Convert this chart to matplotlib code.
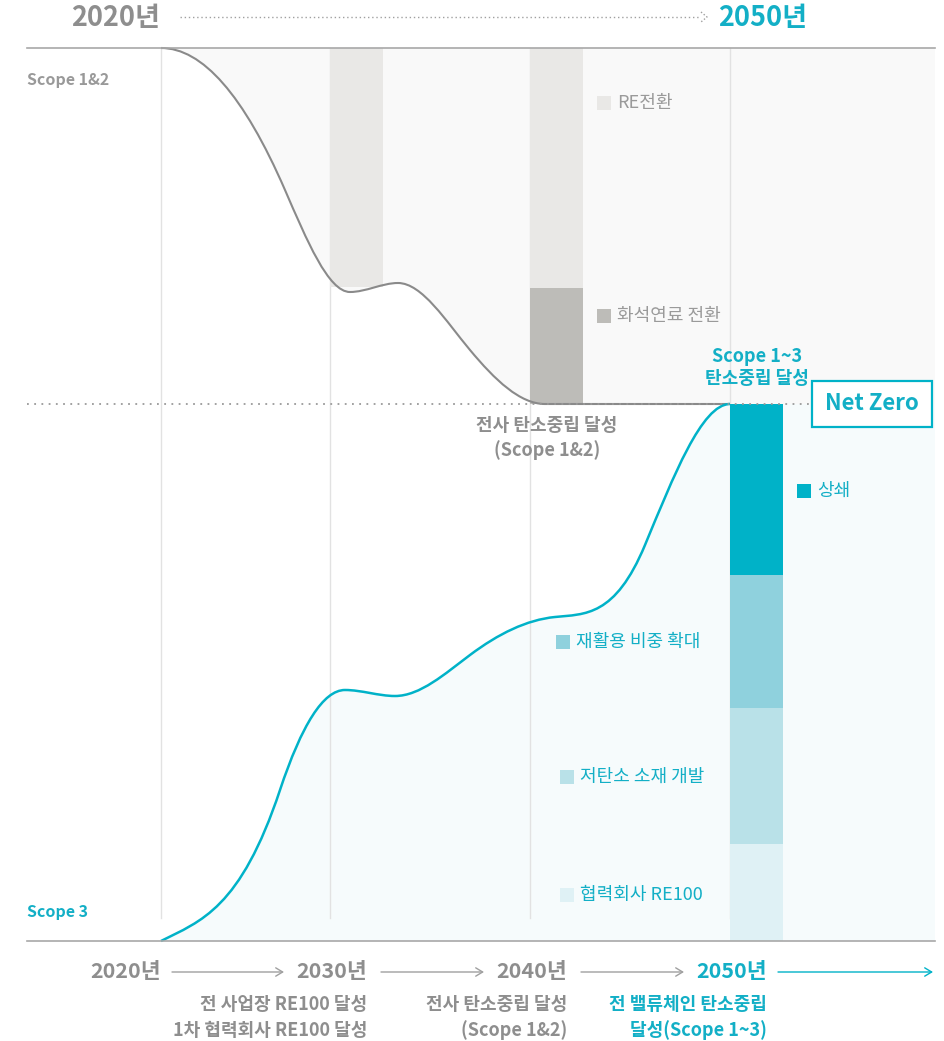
import matplotlib
matplotlib.use("Agg")
import matplotlib.pyplot as plt
from matplotlib.path import Path
from matplotlib.patches import PathPatch, Rectangle

plt.rcParams['font.family'] = ['Noto Sans CJK KR', 'DejaVu Sans']

# ---------------- data (pixel units of the chart) ----------------
years = ["2020년", "2030년", "2040년", "2050년"]
year_x = [161, 330, 530, 730]

# curve nodes: x, y and slope (dy/dx) at the node
scope12_x = [161, 285, 350, 398, 470, 545, 730]
scope12_y = [48, 190, 292, 283, 350, 404, 404]
scope12_m = [0, 2.3, 0, 0, 1.2, 0, 0]

scope3_x = [161, 280, 345, 395, 470, 555, 645, 730]
scope3_y = [941, 790, 690, 696, 655, 617, 545, 404]
scope3_m = [-0.5, -3.0, 0, 0, -0.75, -0.1, -2.4, 0]

# stacked bars (top, bottom) in pixel rows
bar2030_seg = [(48, 287)]
bar2040_seg = [(48, 288), (288, 404)]
bar2050_seg = [(404, 575), (575, 708), (708, 844), (844, 941)]

upper_labels = ["RE전환", "화석연료 전환"]
upper_colors = ["#e9e8e6", "#bdbcb8"]
lower_labels = ["상쇄", "재활용 비중 확대", "저탄소 소재 개발", "협력회사 RE100"]
lower_colors = ["#00b2c8", "#8fd1dd", "#b9e1e8", "#dff1f5"]

milestones = [["전 사업장 RE100 달성", "1차 협력회사 RE100 달성"],
              ["전사 탄소중립 달성", "(Scope 1&2)"],
              ["전 밸류체인 탄소중립", "달성(Scope 1~3)"]]

GRAY_TXT = "#8e8e8e"
CYAN = "#00b2c8"
CYAN_TXT = "#13afc6"


def hermite_path(xs, ys, ms):
    """Cubic Hermite segments through the nodes, as Bezier curves."""
    verts = [(xs[0], ys[0])]
    codes = [Path.MOVETO]
    for i in range(len(xs) - 1):
        dx = xs[i + 1] - xs[i]
        h = dx / 3.0
        c1 = (xs[i] + h, ys[i] + h * ms[i])
        c2 = (xs[i + 1] - h, ys[i + 1] - h * ms[i + 1])
        verts += [c1, c2, (xs[i + 1], ys[i + 1])]
        codes += [Path.CURVE4] * 3
    return verts, codes


fig = plt.figure(figsize=(9.44, 10.41), dpi=100)
ax = fig.add_axes([0, 0, 1, 1])
ax.set_xlim(0, 944)
ax.set_ylim(1041, 0)
ax.axis("off")

# ---------- fills ----------
v12, c12 = hermite_path(scope12_x, scope12_y, scope12_m)
vu = v12 + [(935, 404), (935, 48), (161, 48), (161, 48)]
cu = c12 + [Path.LINETO, Path.LINETO, Path.LINETO, Path.CLOSEPOLY]
ax.add_patch(PathPatch(Path(vu, cu), facecolor="#f9f9f9", edgecolor="none", zorder=1))

v3, c3 = hermite_path(scope3_x, scope3_y, scope3_m)
vl = v3 + [(935, 404), (935, 941), (161, 941), (161, 941)]
cl = c3 + [Path.LINETO, Path.LINETO, Path.LINETO, Path.CLOSEPOLY]
ax.add_patch(PathPatch(Path(vl, cl), facecolor="#f6fbfc", edgecolor="none", zorder=1))

# ---------- grid lines ----------
for x in year_x:
    ax.plot([x, x], [48, 918], color="#e2e2e2", lw=1.0, zorder=2)

# ---------- bars ----------
bw = 53
for (t, b), col in zip(bar2030_seg, upper_colors[:1]):
    ax.add_patch(Rectangle((year_x[1], t), bw, b - t, facecolor=col, edgecolor="none", zorder=3))
for (t, b), col in zip(bar2040_seg, upper_colors):
    ax.add_patch(Rectangle((year_x[2], t), bw, b - t, facecolor=col, edgecolor="none", zorder=3))
for (t, b), col in zip(bar2050_seg, lower_colors):
    ax.add_patch(Rectangle((year_x[3], t), bw, b - t, facecolor=col, edgecolor="none", zorder=3))

# ---------- curves ----------
ax.add_patch(PathPatch(Path(v12, c12), facecolor="none", edgecolor="#8a8a8a", lw=1.5, zorder=4))
ax.add_patch(PathPatch(Path(v3, c3), facecolor="none", edgecolor=CYAN, lw=1.8, zorder=4))

# ---------- frame lines ----------
ax.plot([27, 935], [48, 48], color="#a8a8a8", lw=1.2, zorder=5)
ax.plot([27, 935], [941, 941], color="#a8a8a8", lw=1.2, zorder=5)
ax.plot([27, 935], [404, 404], color="#9a9a9a", lw=1.3, ls=(0, (1, 3)), zorder=5)

# ---------- header ----------
ax.text(160, 18, years[0], ha="right", va="center", fontsize=19.5, fontweight="bold", color=GRAY_TXT)
ax.plot([180, 700], [17, 17], color="#a0a0a0", lw=1.0, ls=(0, (1, 2)))
ax.plot([701, 707, 701], [12, 17, 22], color="#a0a0a0", lw=1.0, ls=(0, (1, 1.5)))
ax.text(718, 18, years[3], ha="left", va="center", fontsize=19.5, fontweight="bold", color=CYAN_TXT)

# ---------- side labels ----------
ax.text(27, 80, "Scope 1&2", ha="left", va="center", fontsize=11.5, fontweight="bold", color="#999999")
ax.text(27, 912, "Scope 3", ha="left", va="center", fontsize=11.5, fontweight="bold", color=CYAN_TXT)

# ---------- legends ----------
upper_leg_pos = [(597, 103), (597, 316)]
for (x, y), lab, col in zip(upper_leg_pos, upper_labels, upper_colors):
    ax.add_patch(Rectangle((x, y - 7), 14, 14, facecolor=col, edgecolor="none", zorder=6))
    ax.text(x + 20, y, lab, ha="left", va="center", fontsize=13, color="#9a9a9a", zorder=6)

lower_leg_pos = [(797, 491), (556, 642), (560, 777), (560, 895)]
for (x, y), lab, col in zip(lower_leg_pos, lower_labels, lower_colors):
    ax.add_patch(Rectangle((x, y - 7), 14, 14, facecolor=col, edgecolor="none", zorder=6))
    ax.text(x + 20, y, lab, ha="left", va="center", fontsize=13, color=CYAN_TXT, zorder=6)

# ---------- annotations ----------
ax.text(757, 368, "Scope 1~3\n탄소중립 달성", ha="center", va="center", fontsize=13,
        fontweight="bold", color=CYAN_TXT, linespacing=1.2, zorder=6)
ax.text(547, 438, "전사 탄소중립 달성\n(Scope 1&2)", ha="center", va="center", fontsize=13,
        fontweight="bold", color=GRAY_TXT, linespacing=1.3, zorder=6)
ax.add_patch(Rectangle((812, 381), 120, 46, facecolor="white", edgecolor=CYAN, lw=1.6, zorder=7))
ax.text(872, 404, "Net Zero", ha="center", va="center", fontsize=16, fontweight="bold",
        color=CYAN_TXT, zorder=8)

# ---------- bottom timeline ----------
ty = 972
label_right = [161, 367, 567, 767]
for i, (xr, lab) in enumerate(zip(label_right, years)):
    col = CYAN_TXT if i == 3 else GRAY_TXT
    ax.text(xr, ty, lab, ha="right", va="center", fontsize=15.5, fontweight="bold", color=col)
arrow_spans = [(172, 284), (381, 484), (581, 684), (778, 933)]
for i, (a, b) in enumerate(arrow_spans):
    col = CYAN if i == 3 else "#a0a0a0"
    ax.annotate("", xy=(b, ty), xytext=(a, ty),
                arrowprops=dict(arrowstyle="->,head_length=0.5,head_width=0.3", color=col, lw=1.0,
                                shrinkA=0, shrinkB=0))

for i, lines in enumerate(milestones):
    xr = label_right[i + 1]
    col = CYAN_TXT if i == 2 else GRAY_TXT
    for j, line in enumerate(lines):
        ax.text(xr, 1005 + 25 * j, line, ha="right", va="center", fontsize=13,
                fontweight="bold", color=col)

fig.savefig("out.png", dpi=100)
